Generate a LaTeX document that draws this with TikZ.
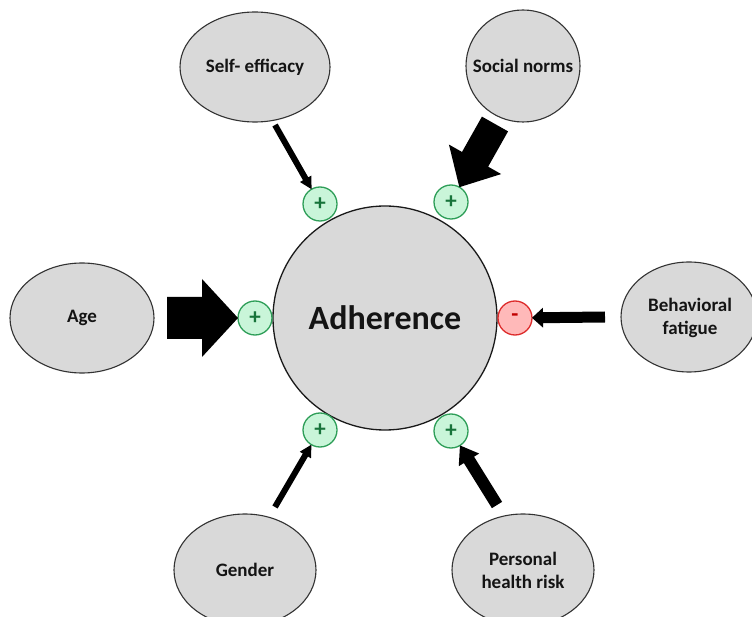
\documentclass[tikz,border=0pt]{standalone}
\usepackage{fontspec}
\setmainfont{Carlito}
\usetikzlibrary{calc}
\definecolor{ellfill}{HTML}{D9D9D9}
\definecolor{ellline}{HTML}{333333}
\definecolor{plusfill}{HTML}{C9F5D9}
\definecolor{plusline}{HTML}{2E9E58}
\definecolor{plustext}{HTML}{17733A}
\definecolor{minusfill}{HTML}{FFB9B9}
\definecolor{minusline}{HTML}{DD2B2B}
\definecolor{minustext}{HTML}{C00000}
\tikzset{
  lbl/.style={font=\fontsize{19}{23}\selectfont\bfseries, align=center, text=black!92},
  factorshape/.style={fill=ellfill, draw=ellline, line width=1.1pt},
  pluscirc/.style={circle, minimum size=34pt, inner sep=0pt, fill=plusfill, draw=plusline, line width=1.3pt,
     text=plustext, font=\fontsize{23}{23}\selectfont\bfseries},
  minuscirc/.style={circle, minimum size=34pt, inner sep=0pt, fill=minusfill, draw=minusline, line width=1.3pt,
     text=minustext, font=\fontsize{23}{23}\selectfont\bfseries},
  arrowfill/.style={fill=black},
}
\newcommand\blockarrow[5]{%
  \coordinate (BAt) at ($(#2)!17pt!(#1)$);
  \coordinate (BAh) at ($(BAt)!#5!(#1)$);
  \fill[arrowfill] ($(#1)!#3!90:(BAt)$) -- ($(BAh)!#3!-90:(#1)$) -- ($(BAh)!#4!-90:(#1)$)
    -- (BAt) -- ($(BAh)!#4!90:(#1)$) -- ($(BAh)!#3!90:(#1)$) -- ($(#1)!#3!-90:(BAt)$) -- cycle;
}
\begin{document}
\begin{tikzpicture}[x=1pt,y=-1pt]
\useasboundingbox (0,0) rectangle (752,617);
\fill[white] (0,0) rectangle (752,617);

% main circle
\draw[fill=ellfill, draw=black!90, line width=1.3pt] (385,318) circle (112);
\node[font=\fontsize{34}{34}\selectfont\bfseries, text=black!92] (adh) at (385,318) {Adherence};

% factor ellipses
\draw[factorshape] (255,67) ellipse (75 and 55);
\node[lbl] (se) at (255,67) {Self- efficacy};
\draw[factorshape] (523,66) ellipse (57 and 56);
\node[lbl] (sn) at (523,66) {Social norms};
\draw[factorshape] (82,318) ellipse (72 and 55);
\node[lbl] (age) at (82,318) {Age};
\draw[factorshape] (689,317) ellipse (68 and 55);
\node[lbl] (bf) at (690,318) {Behavioral\\fatigue};
\draw[factorshape] (245,570) ellipse (71 and 56);
\node[lbl] (gen) at (245,570) {Gender};
\draw[factorshape] (523,570) ellipse (71 and 56);
\node[lbl] (phr) at (523,570) {Personal\\health risk};

% sign circles
\node[pluscirc] (pse) at (320,204) {+};
\node[pluscirc] (psn) at (451,202) {+};
\node[pluscirc] (page) at (255,318) {+};
\node[minuscirc] (mbf) at (515,318) {-};
\node[pluscirc] (pgen) at (320,430) {+};
\node[pluscirc] (pphr) at (451,431) {+};

% arrow start points
\coordinate (se-s) at (275,125);
\coordinate (sn-s) at (495,124);
\coordinate (age-s) at (167,318);
\coordinate (bf-s) at (605,317);
\coordinate (gen-s) at (275,507);
\coordinate (phr-s) at (497,505);

\blockarrow{se-s}{pse}{3pt}{6.5pt}{12pt}
\blockarrow{sn-s}{psn}{15pt}{30pt}{32pt}
\blockarrow{age-s}{page}{21pt}{39pt}{36pt}
\blockarrow{bf-s}{mbf}{5.5pt}{10pt}{11pt}
\blockarrow{gen-s}{pgen}{3pt}{6.5pt}{12pt}
\blockarrow{phr-s}{pphr}{6pt}{12pt}{17pt}
\end{tikzpicture}
\end{document}
